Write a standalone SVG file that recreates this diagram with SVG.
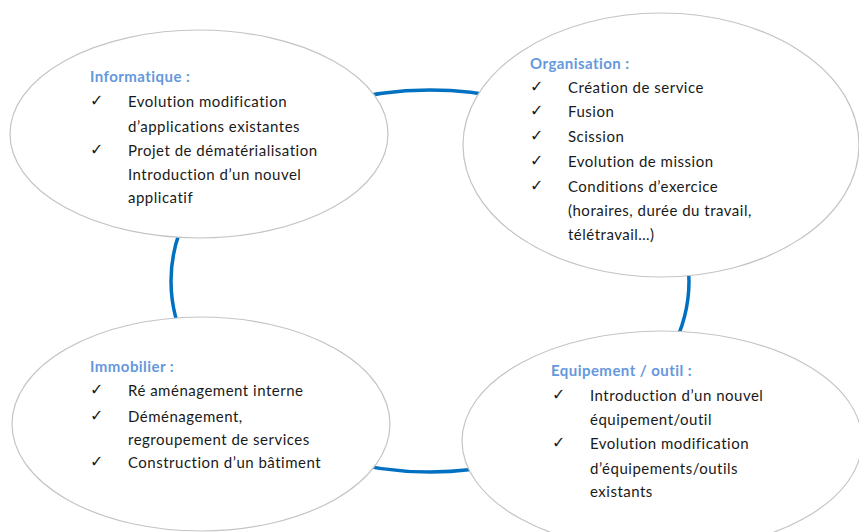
<svg xmlns="http://www.w3.org/2000/svg" width="859" height="532" viewBox="0 0 859 532">
  <style>
    .bubble { fill: #ffffff; stroke: #c4c4c4; stroke-width: 1.2; }
    .ring { fill: none; stroke: #0070c0; stroke-width: 3.5; }
    .title { font-family: Lato, "Liberation Sans", sans-serif; font-size: 15px; font-weight: bold; letter-spacing: 0.45px; fill: #6598dc; }
    .item { font-family: Lato, "Liberation Sans", sans-serif; font-size: 15px; letter-spacing: 0.5px; fill: #1a1a1a; }
    .tick { font-family: "DejaVu Sans", sans-serif; font-size: 16px; font-weight: bold; fill: #1a1a1a; }
  </style>
  <rect width="859" height="532" fill="#ffffff"/>

  <!-- ring linking the four themes -->
  <g id="connectors">
    <ellipse class="ring" cx="430" cy="281" rx="259" ry="191"/>
  </g>

  <g id="informatique">
    <ellipse class="bubble" cx="199" cy="134" rx="189" ry="104"/>
    <text class="title" x="90" y="82">Informatique :</text>
    <text class="tick" x="90" y="106">✓</text>
    <text class="item" x="128" y="107">Evolution modification</text>
    <text class="item" x="128" y="132">d’applications existantes</text>
    <text class="tick" x="90" y="155">✓</text>
    <text class="item" x="128" y="156">Projet de dématérialisation</text>
    <text class="item" x="128" y="180">Introduction d’un nouvel</text>
    <text class="item" x="128" y="203">applicatif</text>
  </g>

  <g id="organisation">
    <ellipse class="bubble" cx="661" cy="145" rx="198" ry="132"/>
    <text class="title" x="530" y="69">Organisation :</text>
    <text class="tick" x="530" y="92">✓</text>
    <text class="item" x="568" y="93">Création de service</text>
    <text class="tick" x="530" y="116">✓</text>
    <text class="item" x="568" y="117">Fusion</text>
    <text class="tick" x="530" y="141">✓</text>
    <text class="item" x="568" y="142">Scission</text>
    <text class="tick" x="530" y="166">✓</text>
    <text class="item" x="568" y="167">Evolution de mission</text>
    <text class="tick" x="530" y="191">✓</text>
    <text class="item" x="568" y="192">Conditions d’exercice</text>
    <text class="item" x="568" y="216">(horaires, durée du travail,</text>
    <text class="item" x="568" y="240">télétravail…)</text>
  </g>

  <g id="immobilier">
    <ellipse class="bubble" cx="201" cy="424" rx="189" ry="107"/>
    <text class="title" x="90" y="372">Immobilier :</text>
    <text class="tick" x="90" y="395">✓</text>
    <text class="item" x="128" y="396">Ré aménagement interne</text>
    <text class="tick" x="90" y="421">✓</text>
    <text class="item" x="128" y="422">Déménagement,</text>
    <text class="item" x="128" y="445">regroupement de services</text>
    <text class="tick" x="90" y="467">✓</text>
    <text class="item" x="128" y="468">Construction d’un bâtiment</text>
  </g>

  <g id="equipement">
    <ellipse class="bubble" cx="662" cy="441" rx="200" ry="110"/>
    <text class="title" x="551" y="376">Equipement / outil :</text>
    <text class="tick" x="552" y="400">✓</text>
    <text class="item" x="590" y="401">Introduction d’un nouvel</text>
    <text class="item" x="590" y="425">équipement/outil</text>
    <text class="tick" x="552" y="448">✓</text>
    <text class="item" x="590" y="449">Evolution modification</text>
    <text class="item" x="590" y="474">d’équipements/outils</text>
    <text class="item" x="590" y="497">existants</text>
  </g>
</svg>
